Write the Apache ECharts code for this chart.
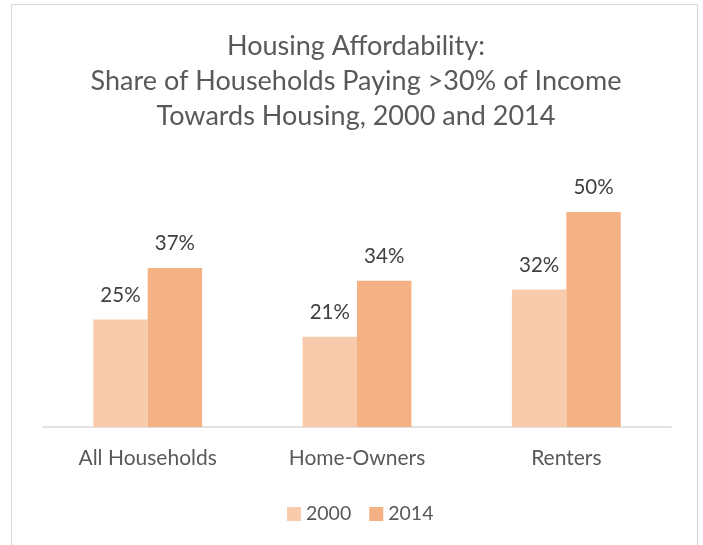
<!DOCTYPE html>
<html>
<head>
<meta charset="utf-8">
<script src="https://cdn.jsdelivr.net/npm/echarts@6/dist/echarts.min.js"></script>
<style>
  html, body { margin: 0; padding: 0; background: #fff; }
  #frame { position: absolute; left: 11px; top: 4px; width: 687px; height: 560px; border: 1px solid #d9d9d9; box-sizing: border-box; }
  #chart { width: 703px; height: 545px; position: absolute; left: 0; top: 0; }
</style>
</head>
<body>
<div id="frame"></div>
<div id="chart"></div>
<script>
  // categories and values (percent)
  var categories = ['All Households', 'Home-Owners', 'Renters'];
  var values2000 = [25, 21, 32];
  var values2014 = [37, 34, 50];
  var seriesNames = ['2000', '2014'];

  var font = 'Lato';
  var myChart = echarts.init(document.getElementById('chart'));
  myChart.setOption({
    animation: false,
    title: {
      text: 'Housing Affordability:\nShare of Households Paying >30% of Income\nTowards Housing, 2000 and 2014',
      left: 351,
      textAlign: 'center',
      top: 24,
      textStyle: { fontFamily: font, fontSize: 27, fontWeight: 'normal', color: '#595959', lineHeight: 35 }
    },
    legend: {
      data: seriesNames,
      bottom: 16,
      left: 282,
      itemWidth: 14,
      itemHeight: 14,
      itemGap: 18,
      icon: 'rect',
      textStyle: { fontFamily: font, fontSize: 19.5, color: '#595959' }
    },
    grid: { left: 43, right: 32, top: 169, bottom: 118 },
    xAxis: {
      type: 'category',
      data: categories,
      axisLine: { lineStyle: { color: '#d9d9d9', width: 1.5 } },
      axisTick: { show: false },
      axisLabel: { fontFamily: font, fontSize: 21, color: '#595959', margin: 21 }
    },
    yAxis: {
      type: 'value',
      min: 0,
      max: 60,
      show: false,
      splitLine: { show: false }
    },
    series: [
      {
        name: seriesNames[0],
        type: 'bar',
        data: values2000,
        barGap: '0%',
        barCategoryGap: '48%',
        itemStyle: { color: '#F8CBAD' },
        label: { show: true, position: 'top', distance: 14, formatter: '{c}%', fontFamily: font, fontSize: 20.5, color: '#404040' }
      },
      {
        name: seriesNames[1],
        type: 'bar',
        data: values2014,
        barGap: '0%',
        barCategoryGap: '48%',
        itemStyle: { color: '#F4B183' },
        label: { show: true, position: 'top', distance: 14, formatter: '{c}%', fontFamily: font, fontSize: 20.5, color: '#404040' }
      }
    ]
  });
</script>
</body>
</html>
